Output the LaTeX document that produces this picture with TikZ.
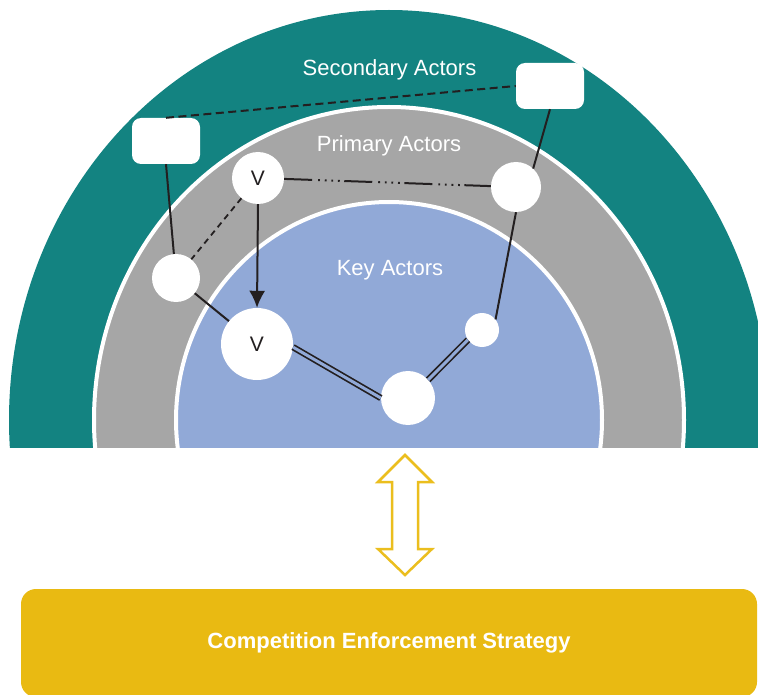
\documentclass[tikz,border=0pt]{standalone}
\usepackage{fontspec}
\setmainfont{Liberation Sans}
\usetikzlibrary{arrows.meta}
\definecolor{tealA}{HTML}{138381}
\definecolor{grayA}{HTML}{A6A6A6}
\definecolor{blueA}{HTML}{91A9D7}
\definecolor{yelA}{HTML}{E9BA12}
\definecolor{yelB}{HTML}{EBBE1E}
\definecolor{ink}{HTML}{231F20}
\tikzset{
  ringlabel/.style={text=white, font=\fontsize{22}{26}\selectfont, anchor=base, inner sep=0pt},
  actor/.style={circle, fill=white, inner sep=0pt, text=ink, font=\fontsize{21}{25}\selectfont},
  sbox/.style={rectangle, rounded corners=9pt, fill=white, minimum width=68pt, minimum height=46pt, inner sep=0pt},
  link/.style={draw=ink, line width=2pt},
  dbl/.style={draw=ink, line width=1.7pt, double=blueA, double distance=3pt},
  dashedlink/.style={link, dash pattern=on 8pt off 4.5pt},
  shortdash/.style={link, line width=1.8pt, dash pattern=on 6pt off 4.5pt},
  dashdots/.style={link, dash pattern=on 28pt off 6pt on 1.8pt off 4.8pt on 1.8pt off 4.8pt on 1.8pt off 4.8pt on 1.8pt off 4.5pt},
  stratbox/.style={rectangle, rounded corners=15pt, fill=yelA, minimum width=736pt, minimum height=108pt, inner sep=0pt, text=white, font=\bfseries\fontsize{22}{26}\selectfont}
}
\begin{document}
\begin{tikzpicture}[x=1pt,y=-1pt]
\useasboundingbox (0,0) rectangle (758,695);
\begin{scope}
  \clip (0,0) rectangle (758,447);
  \fill[tealA] (389,420) ellipse [x radius=380pt, y radius=410pt];
  \filldraw[fill=grayA, draw=white, line width=4pt] (389,420) ellipse [x radius=295pt, y radius=313pt];
  \filldraw[fill=blueA, draw=white, line width=4pt] (389,420) ellipse [x radius=213pt, y radius=218pt];
\end{scope}

\node[ringlabel] (seclbl) at (389.5,76) {Secondary Actors};
\node[ringlabel] (prilbl) at (389,152) {Primary Actors};
\node[ringlabel] (keylbl) at (390,276) {Key Actors};

% actors
\node[sbox] (lbox) at (166,141) {};
\node[sbox] (rbox) at (550,86) {};
\node[actor, minimum size=52pt] (vtop) at (258,178) {V};
\node[actor, minimum size=50pt] (rc) at (516,187) {};
\node[actor, minimum size=48pt] (lc) at (176,278) {};
\node[actor, minimum size=72pt] (vbot) at (257,344) {V};
\node[actor, minimum size=54pt] (bc) at (408,398) {};
\node[actor, minimum size=34pt] (sc) at (482,330) {};

% connectors
\draw[dashedlink] (lbox.north) -- (rbox.west);
\draw[link] (lbox.south) -- (lc);
\draw[link] (rbox.south) -- (rc.47);
\draw[dashdots] (vtop) -- (rc);
\draw[shortdash] (vtop) -- (lc);
\draw[link, -{Latex[length=17pt,width=16pt]}] (vtop.south) -- (vbot.north);
\draw[link] (lc) -- (vbot);
\draw[dbl] (vbot.-5) -- (bc.west);
\draw[dbl] (bc.42) -- (sc.215);
\draw[link] (rc.south) -- (sc.38);

% two-way arrow
\draw[yelB, line width=2.5pt, fill=white, line join=miter]
  (405,455) -- (432,482) -- (418,482) -- (418,549) -- (432,549) -- (405,575)
  -- (378,549) -- (392,549) -- (392,482) -- (378,482) -- cycle;

\node[stratbox] (ces) at (389,643) {\raisebox{-1.5pt}{Competition Enforcement Strategy}};
\end{tikzpicture}
\end{document}
